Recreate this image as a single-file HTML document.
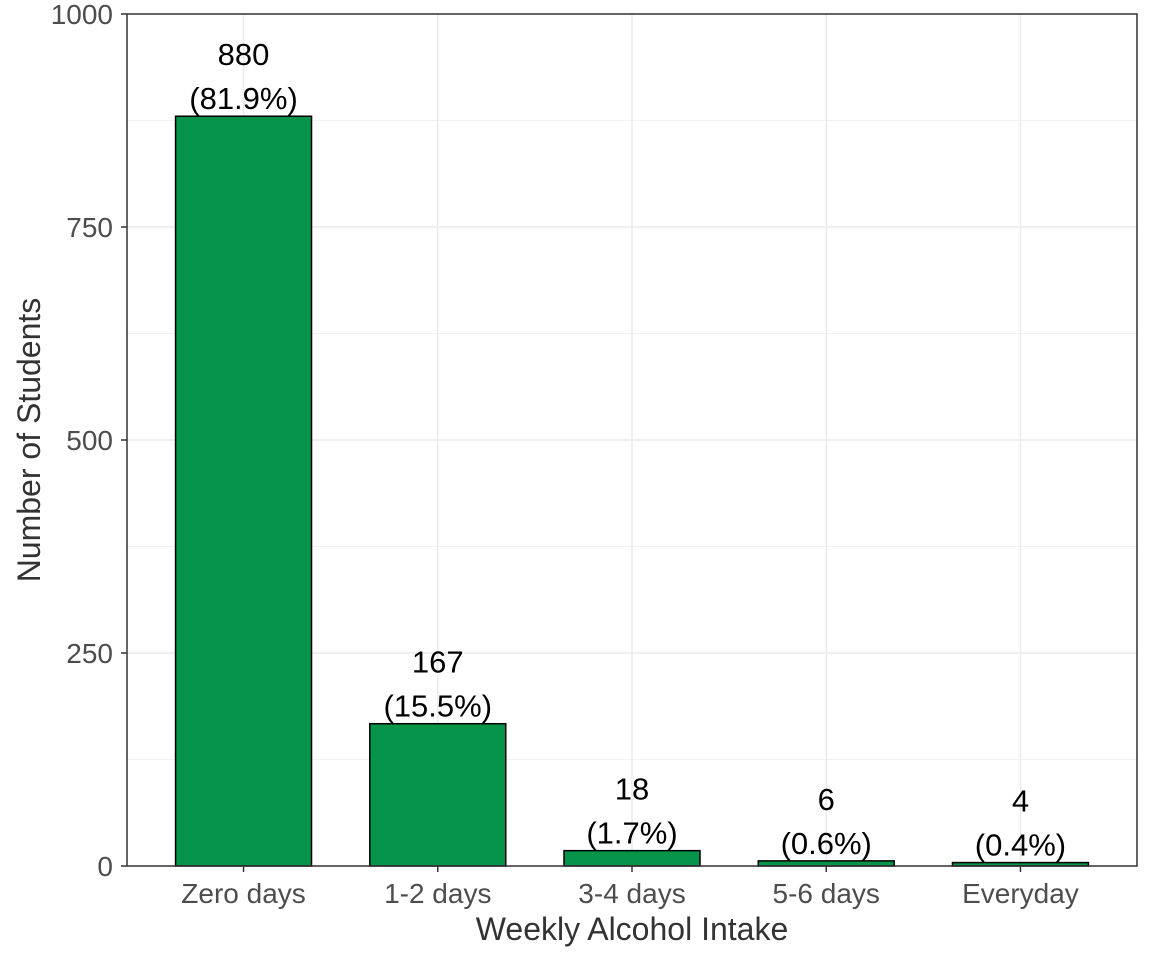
<!DOCTYPE html>
<html><head><meta charset="utf-8"><style>
body{margin:0;background:#fff;font-family:"Liberation Sans",Arial,sans-serif}
</style></head><body>
<svg id="chart" width="1152" height="960" xmlns="http://www.w3.org/2000/svg"></svg>
<script>
const categories=["Zero days","1-2 days","3-4 days","5-6 days","Everyday"];
const counts=[880,167,18,6,4];
const percents=["81.9%","15.5%","1.7%","0.6%","0.4%"];
const yTicks=[0,250,500,750,1000];
const yMinor=[125,375,625,875];

const L=127,R=1137,T=14,B=866;
const ns="http://www.w3.org/2000/svg";
const svg=document.getElementById('chart');
const y=v=>B-(v/1000)*(B-T);
const step=(R-L)/(categories.length-1+1.2);
const x=i=>L+step*(0.6+i);
const bw=step*0.7;
function mk(tag,attrs,parent){const e=document.createElementNS(ns,tag);for(const k in attrs)e.setAttribute(k,attrs[k]);(parent||svg).appendChild(e);return e;}

yMinor.forEach(v=>{const l=mk('line',{x1:L,x2:R,y1:y(v),y2:y(v),stroke:'#f2f2f2','stroke-width':1});

});
yTicks.forEach(v=>{const l=mk('line',{x1:L,x2:R,y1:y(v),y2:y(v),stroke:'#ebebeb','stroke-width':1.5});

});
categories.forEach((c,i)=>{const l=mk('line',{x1:x(i),x2:x(i),y1:T,y2:B,stroke:'#ebebeb','stroke-width':1.5});

});

categories.forEach((c,i)=>{
 const r=mk('rect',{x:x(i)-bw/2,y:y(counts[i]),width:bw,height:B-y(counts[i]),fill:'#05944a',stroke:'#000','stroke-width':1.5});
 
 
 const t1=mk('text',{x:x(i),y:y(counts[i])-51,'text-anchor':'middle','font-size':31,fill:'#000'});
 t1.textContent=counts[i];
 
 
 const t2=mk('text',{x:x(i),y:y(counts[i])-7,'text-anchor':'middle','font-size':31,fill:'#000'});
 t2.textContent='('+percents[i]+')';
 
 
 const tk=mk('line',{x1:x(i),x2:x(i),y1:B,y2:B+6,stroke:'#333','stroke-width':1.5});
 
 
 const tl=mk('text',{x:x(i),y:B+37,'text-anchor':'middle','font-size':28,fill:'#4d4d4d'});
 tl.textContent=c;
 
 
});
yTicks.forEach(v=>{
 const tk=mk('line',{x1:L-6,x2:L,y1:y(v),y2:y(v),stroke:'#333','stroke-width':1.5});
 
 
 const tl=mk('text',{x:L-14,y:y(v)+10,'text-anchor':'end','font-size':28,fill:'#4d4d4d'});
 tl.textContent=v;
 
 
});
const frame=mk('rect',{x:L,y:T,width:R-L,height:B-T,fill:'none',stroke:'#333','stroke-width':1.5});


const xt=mk('text',{x:(L+R)/2,y:940,'text-anchor':'middle','font-size':32,fill:'#333'});
xt.textContent='Weekly Alcohol Intake';


const yt=mk('text',{x:0,y:0,'text-anchor':'middle','font-size':32,fill:'#333',transform:'translate(40,'+((T+B)/2)+') rotate(-90)'});
yt.textContent='Number of Students';


</script>
</body></html>
